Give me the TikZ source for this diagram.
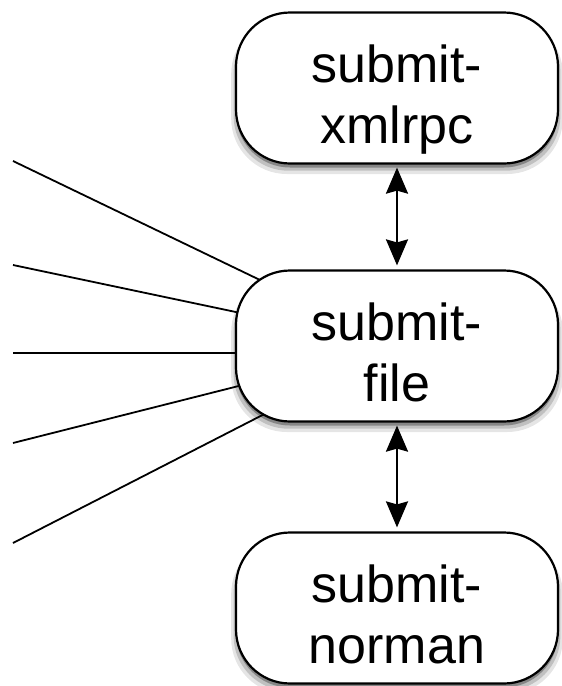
\documentclass[tikz,border=0pt]{standalone}
\usepackage{fontspec}
\setmainfont{Liberation Sans}
\usetikzlibrary{arrows.meta,shadows,backgrounds}
\tikzset{
  box/.style={draw=black, line width=2.2pt, fill=white, rounded corners=54pt,
    minimum width=322pt, minimum height=151pt, inner sep=0pt, align=center,
    font=\fontsize{52}{61}\selectfont, text height=120pt, text depth=10pt,
    drop shadow={shadow xshift=0pt, shadow yshift=-8pt, shadow scale=1.03, opacity=0.10, fill=black},
    drop shadow={shadow xshift=0pt, shadow yshift=-6pt, shadow scale=1.015, opacity=0.16, fill=black},
    drop shadow={shadow xshift=0pt, shadow yshift=-4pt, shadow scale=1.0, opacity=0.30, fill=black}},
  conn/.style={draw=black, line width=1.8pt},
  dbl/.style={draw=black, line width=2.4pt, {Stealth[length=26pt,width=22pt,inset=3pt]}-{Stealth[length=26pt,width=22pt,inset=3pt]}, shorten <=3pt, shorten >=4pt}
}
\begin{document}
\begin{tikzpicture}[x=1pt,y=-1pt]
\useasboundingbox (0,0) rectangle (562,686);
\node[box] (xmlrpc) at (397,88) {submit-\\xmlrpc};
\node[box] (file) at (397,346) {submit-\\file};
\node[box] (norman) at (397,608) {submit-\\norman};
\coordinate (s1) at (13,161);
\coordinate (s2) at (13,265);
\coordinate (s3) at (13,353);
\coordinate (s4) at (13,443);
\coordinate (s5) at (13,543);
\begin{scope}[on background layer]
\draw[conn] (s1) -- (file.center);
\draw[conn] (s2) -- (file.center);
\draw[conn] (s3) -- (s3 -| file.center);
\draw[conn] (s4) -- (file.center);
\draw[conn] (s5) -- (file.center);
\end{scope}
\draw[dbl] (xmlrpc) -- (file);
\draw[dbl] (file) -- (norman);
\end{tikzpicture}
\end{document}
